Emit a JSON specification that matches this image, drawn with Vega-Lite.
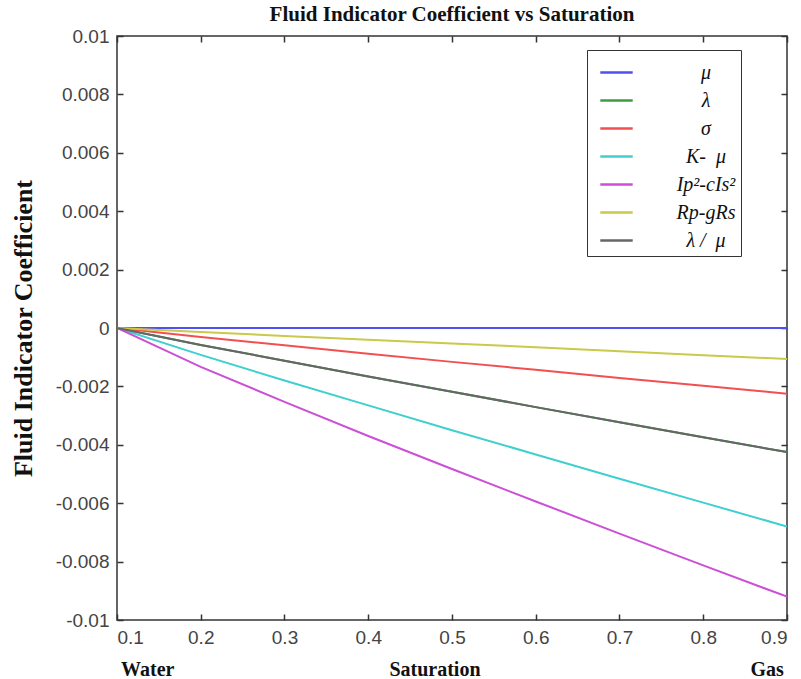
{
  "$schema": "https://vega.github.io/schema/vega-lite/v6.json",
  "width": 670,
  "height": 584,
  "autosize": {"type": "none"},
  "padding": {"left": 117, "top": 36, "right": 14, "bottom": 59},
  "background": "white",
  "title": {
    "text": "Fluid Indicator Coefficient vs Saturation",
    "font": "Liberation Serif",
    "fontSize": 21,
    "fontWeight": "bold",
    "color": "#111",
    "anchor": "middle",
    "offset": 2
  },
  "config": {
    "view": {"stroke": "#333", "strokeWidth": 1.5},
    "axis": {
      "grid": false,
      "labelFont": "Liberation Sans",
      "labelFontSize": 19,
      "labelColor": "#444",
      "domain": false,
      "tickColor": "#333",
      "tickWidth": 1.5,
      "tickSize": -6,
      "titleFont": "Liberation Serif",
      "titleFontWeight": "bold",
      "titleColor": "#111"
    }
  },
  "datasets": {
    "lines": [
      {"s": "μ", "x": 0.1, "y": 0}, {"s": "μ", "x": 0.2, "y": 0}, {"s": "μ", "x": 0.3, "y": 0}, {"s": "μ", "x": 0.4, "y": 0}, {"s": "μ", "x": 0.5, "y": 0}, {"s": "μ", "x": 0.6, "y": 0}, {"s": "μ", "x": 0.7, "y": 0}, {"s": "μ", "x": 0.8, "y": 0}, {"s": "μ", "x": 0.9, "y": 0},
      {"s": "σ", "x": 0.1, "y": 0}, {"s": "σ", "x": 0.2, "y": -0.00031}, {"s": "σ", "x": 0.3, "y": -0.00059}, {"s": "σ", "x": 0.4, "y": -0.00088}, {"s": "σ", "x": 0.5, "y": -0.00116}, {"s": "σ", "x": 0.6, "y": -0.00143}, {"s": "σ", "x": 0.7, "y": -0.00171}, {"s": "σ", "x": 0.8, "y": -0.00198}, {"s": "σ", "x": 0.9, "y": -0.00225},
      {"s": "K-\u00a0 μ", "x": 0.1, "y": 0}, {"s": "K-\u00a0 μ", "x": 0.2, "y": -0.00092}, {"s": "K-\u00a0 μ", "x": 0.3, "y": -0.0018}, {"s": "K-\u00a0 μ", "x": 0.4, "y": -0.00265}, {"s": "K-\u00a0 μ", "x": 0.5, "y": -0.0035}, {"s": "K-\u00a0 μ", "x": 0.6, "y": -0.00433}, {"s": "K-\u00a0 μ", "x": 0.7, "y": -0.00516}, {"s": "K-\u00a0 μ", "x": 0.8, "y": -0.00598}, {"s": "K-\u00a0 μ", "x": 0.9, "y": -0.0068},
      {"s": "Ip²-cIs²", "x": 0.1, "y": 0}, {"s": "Ip²-cIs²", "x": 0.2, "y": -0.00133}, {"s": "Ip²-cIs²", "x": 0.3, "y": -0.00253}, {"s": "Ip²-cIs²", "x": 0.4, "y": -0.0037}, {"s": "Ip²-cIs²", "x": 0.5, "y": -0.00483}, {"s": "Ip²-cIs²", "x": 0.6, "y": -0.00594}, {"s": "Ip²-cIs²", "x": 0.7, "y": -0.00704}, {"s": "Ip²-cIs²", "x": 0.8, "y": -0.00813}, {"s": "Ip²-cIs²", "x": 0.9, "y": -0.0092},
      {"s": "Rp-gRs", "x": 0.1, "y": 0}, {"s": "Rp-gRs", "x": 0.2, "y": -0.00014}, {"s": "Rp-gRs", "x": 0.3, "y": -0.00027}, {"s": "Rp-gRs", "x": 0.4, "y": -0.0004}, {"s": "Rp-gRs", "x": 0.5, "y": -0.00053}, {"s": "Rp-gRs", "x": 0.6, "y": -0.00066}, {"s": "Rp-gRs", "x": 0.7, "y": -0.0008}, {"s": "Rp-gRs", "x": 0.8, "y": -0.00093}, {"s": "Rp-gRs", "x": 0.9, "y": -0.00106},
      {"s": "λ /\u00a0 μ", "x": 0.1, "y": 0}, {"s": "λ /\u00a0 μ", "x": 0.2, "y": -0.00058}, {"s": "λ /\u00a0 μ", "x": 0.3, "y": -0.00112}, {"s": "λ /\u00a0 μ", "x": 0.4, "y": -0.00166}, {"s": "λ /\u00a0 μ", "x": 0.5, "y": -0.00218}, {"s": "λ /\u00a0 μ", "x": 0.6, "y": -0.00271}, {"s": "λ /\u00a0 μ", "x": 0.7, "y": -0.00323}, {"s": "λ /\u00a0 μ", "x": 0.8, "y": -0.00374}, {"s": "λ /\u00a0 μ", "x": 0.9, "y": -0.00425}
    ],
    "green": [
      {"s": "λ", "x": 0.1, "y": 0}, {"s": "λ", "x": 0.2, "y": -0.00058}, {"s": "λ", "x": 0.3, "y": -0.00112}, {"s": "λ", "x": 0.4, "y": -0.00166}, {"s": "λ", "x": 0.5, "y": -0.00218}, {"s": "λ", "x": 0.6, "y": -0.00271}, {"s": "λ", "x": 0.7, "y": -0.00323}, {"s": "λ", "x": 0.8, "y": -0.00374}, {"s": "λ", "x": 0.9, "y": -0.00425}
    ]
  },
  "layer": [
    {
      "data": {"name": "green"},
      "mark": {"type": "line", "strokeWidth": 2, "clip": true},
      "encoding": {
        "x": {"field": "x", "type": "quantitative", "scale": {"domain": [0.1, 0.9], "nice": false, "zero": false},
          "axis": {"orient": "bottom", "values": [0.1, 0.2, 0.3, 0.4, 0.5, 0.6, 0.7, 0.8, 0.9], "format": ".1f", "labelPadding": 14,
            "title": "Water\u00a0\u00a0\u00a0\u00a0\u00a0\u00a0\u00a0\u00a0\u00a0\u00a0\u00a0\u00a0\u00a0\u00a0\u00a0\u00a0\u00a0\u00a0\u00a0\u00a0\u00a0\u00a0\u00a0\u00a0\u00a0\u00a0\u00a0\u00a0\u00a0\u00a0\u00a0\u00a0\u00a0\u00a0\u00a0\u00a0\u00a0\u00a0\u00a0\u00a0\u00a0\u00a0\u00a0Saturation\u00a0\u00a0\u00a0\u00a0\u00a0\u00a0\u00a0\u00a0\u00a0\u00a0\u00a0\u00a0\u00a0\u00a0\u00a0\u00a0\u00a0\u00a0\u00a0\u00a0\u00a0\u00a0\u00a0\u00a0\u00a0\u00a0\u00a0\u00a0\u00a0\u00a0\u00a0\u00a0\u00a0\u00a0\u00a0\u00a0\u00a0\u00a0\u00a0\u00a0\u00a0\u00a0\u00a0\u00a0\u00a0\u00a0\u00a0\u00a0\u00a0\u00a0\u00a0\u00a0\u00a0\u00a0Gas",
            "titleFontSize": 20, "titlePadding": 12}},
        "y": {"field": "y", "type": "quantitative", "scale": {"domain": [-0.01, 0.01], "nice": false, "zero": false},
          "axis": {"orient": "left", "values": [-0.01, -0.008, -0.006, -0.004, -0.002, 0, 0.002, 0.004, 0.006, 0.008, 0.01], "format": "~g", "labelPadding": 14,
            "labelExpr": "replace(datum.label, '−', '-')",
            "title": "Fluid Indicator Coefficient", "titleFontSize": 26, "titlePadding": 19}},
        "color": {"field": "s", "type": "nominal",
          "scale": {"domain": ["μ", "λ", "σ", "K-\u00a0 μ", "Ip²-cIs²", "Rp-gRs", "λ /\u00a0 μ"],
                    "range": ["#4f4ff5", "#3f9b3f", "#f25050", "#3fcfcf", "#cc4fd6", "#c9c94a", "#666666"]},
          "legend": {
            "orient": "none", "legendX": 470, "legendY": 14,
            "title": null,
            "symbolType": "stroke", "symbolSize": 1050, "symbolStrokeWidth": 2.5, "symbolOffset": 7,
            "labelFont": "Liberation Serif", "labelFontStyle": "italic", "labelFontSize": 20, "labelColor": "#111",
            "labelAlign": "center", "labelOffset": 72,
            "rowPadding": 0, "padding": 5,
            "strokeColor": "#333", "fillColor": "white"
          }}
      }
    },
    {
      "data": {"name": "lines"},
      "mark": {"type": "line", "strokeWidth": 2, "clip": true},
      "encoding": {
        "x": {"field": "x", "type": "quantitative", "scale": {"domain": [0.1, 0.9], "nice": false, "zero": false},
          "axis": {"orient": "top", "values": [0.1, 0.2, 0.3, 0.4, 0.5, 0.6, 0.7, 0.8, 0.9], "labels": false, "title": null}},
        "y": {"field": "y", "type": "quantitative", "scale": {"domain": [-0.01, 0.01], "nice": false, "zero": false},
          "axis": {"orient": "right", "values": [-0.01, -0.008, -0.006, -0.004, -0.002, 0, 0.002, 0.004, 0.006, 0.008, 0.01], "labels": false, "title": null}},
        "color": {"field": "s", "type": "nominal"}
      }
    }
  ],
  "resolve": {"axis": {"x": "independent", "y": "independent"}}
}
